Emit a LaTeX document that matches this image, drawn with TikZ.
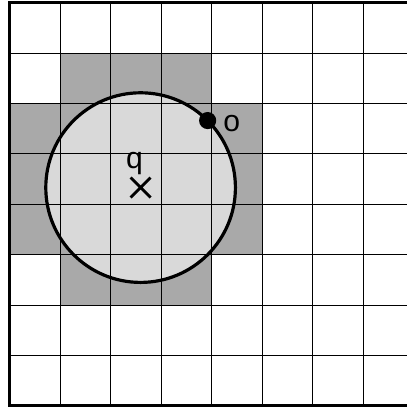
\documentclass[tikz,border=0pt]{standalone}
\usepackage{fontspec}
\setmainfont{Liberation Sans}
\usepackage{xcolor}
\usepackage{tikz}
\usetikzlibrary{arrows.meta,shapes.misc,positioning}
\definecolor{cellgray}{RGB}{169,169,169}
\definecolor{discgray}{RGB}{217,217,217}

\begin{document}
\begin{tikzpicture}[font=\fontsize{17}{20}\selectfont,
  lbl/.style={inner sep=0pt}]
\useasboundingbox(-0.198,-0.04)rectangle(7.871,8.05);
% cells touched by the disc
\fill[cellgray](1,6)rectangle(4,7);
\fill[cellgray](0,3)rectangle(5,6);
\fill[cellgray](1,2)rectangle(4,3);
\coordinate(q)at(2.59,4.33);
\fill[discgray](q)circle(1.88);
\draw[line width=0.5pt](0,0)grid(8,8);
\draw[line width=1.8pt](q)circle(1.88);
\draw[line width=1.7pt](0,0)rectangle(8,8);
\node[cross out,draw,line width=1.6pt,inner sep=0pt,minimum size=0.34cm](qmark)at(q){};
\node[lbl,above=0.04cm of qmark,xshift=-0.12cm](qlabel){q};
\node[circle,fill,inner sep=0pt,minimum size=0.34cm](o)at([shift={(45:1.88)}]q){};
\node[lbl,right=0.13cm of o,yshift=-0.06cm](olabel){o};
\end{tikzpicture}
\end{document}
